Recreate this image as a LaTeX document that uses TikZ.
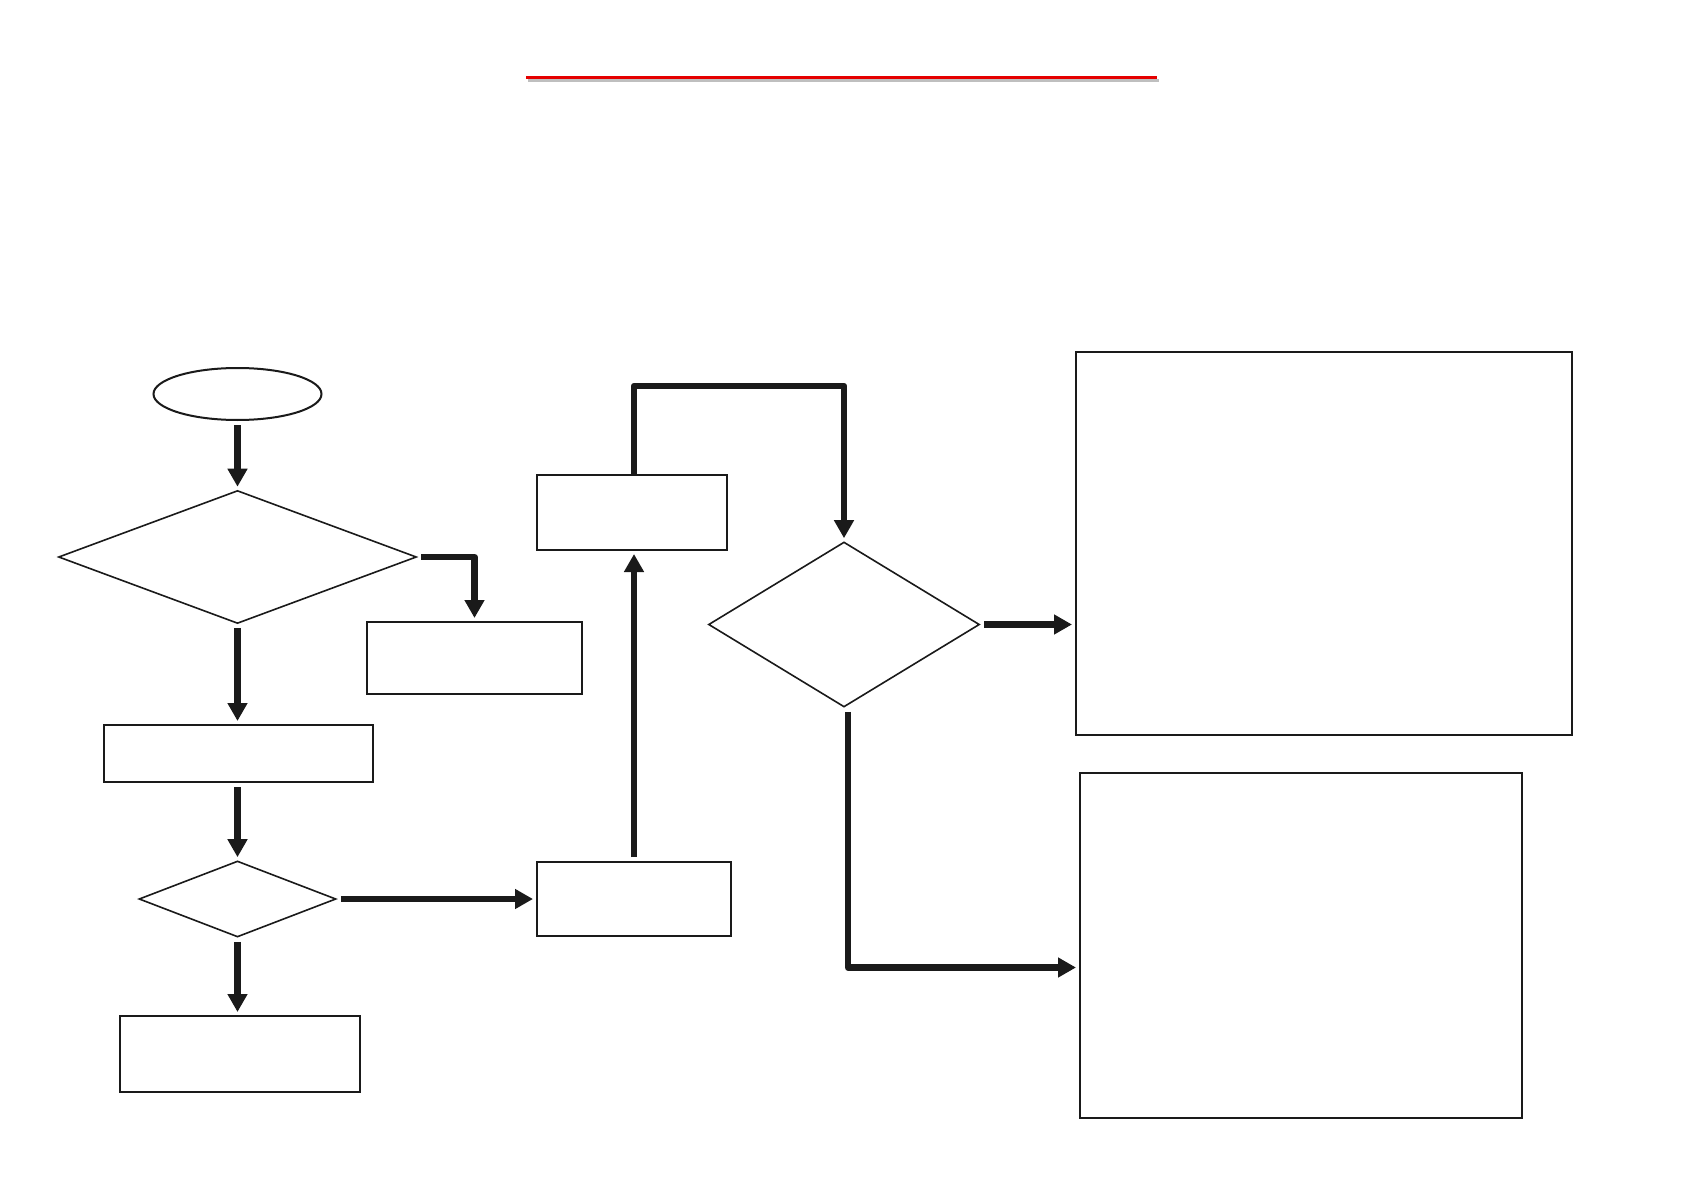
\documentclass[tikz,border=0pt]{standalone}
\usetikzlibrary{shapes.geometric,arrows.meta}
\definecolor{ink}{HTML}{1A1A1A}
\begin{document}
\begin{tikzpicture}[x=1pt,y=-1pt,
  box/.style={draw=ink,line width=2pt,rectangle,inner sep=0pt,minimum width=#1},
  dia/.style={draw=ink,line width=1.6pt,diamond,inner sep=0pt},
  conn/.style={draw=ink,line width=6.5pt,line join=round,-{Triangle[length=18pt,width=19pt]},shorten <=4pt,shorten >=3pt}]
\useasboundingbox[fill=white] (0,0) rectangle (1684,1190);
% title rule
\draw[line width=3pt,gray!50] (528,81) -- (1159,81);
\draw[line width=3pt,red!90!black] (526,78) -- (1157,78);
% nodes
\node[draw=ink,line width=2pt,ellipse,inner sep=0pt,minimum width=168pt,minimum height=52pt] (start) at (237.5,394) {};
\node[dia,minimum width=358pt,minimum height=133pt] (d1) at (237.5,557) {};
\node[box=215pt,minimum height=72pt] (b1) at (474.5,658) {};
\node[box=269pt,minimum height=57pt] (b2) at (238.5,753.5) {};
\node[dia,minimum width=197pt,minimum height=76pt] (d2) at (237.5,899) {};
\node[box=240pt,minimum height=76pt] (b3) at (240,1054) {};
\node[box=194pt,minimum height=74pt] (b4) at (634,899) {};
\node[box=190pt,minimum height=75pt] (b5) at (632,512.5) {};
\node[dia,minimum width=271pt,minimum height=165pt] (d3) at (844,624.5) {};
\node[box=496pt,minimum height=383pt] (B1) at (1324,543.5) {};
\node[box=442pt,minimum height=345pt] (B2) at (1301,945.5) {};
\coordinate (loop) at (740,386);
% connectors
\draw[conn] (start.south) -- (d1.north);
\draw[conn] (d1.east) -| (b1.north);
\draw[conn] (d1.south) -- (d1.south |- b2.north);
\draw[conn] (d1.south |- b2.south) -- (d2.north);
\draw[conn] (d2.south) -- (d2.south |- b3.north);
\draw[conn] (d2.east) -- (b4.west);
\draw[conn] (b4.north) -- (b4.north |- b5.south);
\draw[conn,shorten <=0pt] (b4.north |- b5.north) |- (loop) -| (d3.north);
\draw[conn] (d3.east) -- (d3.east -| B1.west);
\draw[conn] ([xshift=4pt]d3.south) |- ([yshift=-22pt]B2.west);
\end{tikzpicture}
\end{document}
